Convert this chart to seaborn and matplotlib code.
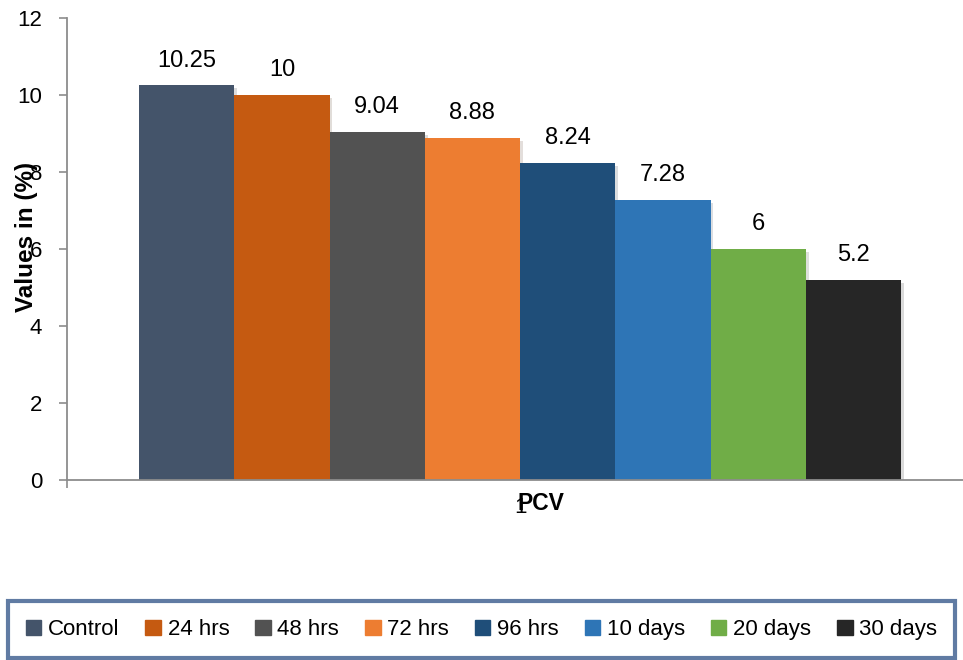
import seaborn as sns
import matplotlib.pyplot as plt
import matplotlib.patheffects as pe
import pandas as pd

# values
groups = ["Control", "24 hrs", "48 hrs", "72 hrs", "96 hrs",
          "10 days", "20 days", "30 days"]
pcv_values = [10.25, 10, 9.04, 8.88, 8.24, 7.28, 6, 5.2]
bar_labels = ["10.25", "10", "9.04", "8.88", "8.24", "7.28", "6", "5.2"]
category = "1"
colors = ["#44546A", "#C55A11", "#525252", "#ED7D31",
          "#1F4E79", "#2E75B6", "#70AD47", "#262626"]
y_ticks = [0, 2, 4, 6, 8, 10, 12]

sns.set_style("white")
plt.rcParams['font.family'] = ['Liberation Sans', 'DejaVu Sans']
plt.rcParams['text.color'] = 'black'
plt.rcParams['xtick.color'] = 'black'
plt.rcParams['ytick.color'] = 'black'
plt.rcParams['axes.labelcolor'] = 'black'

df = pd.DataFrame({"x": [category] * len(groups),
                   "group": groups,
                   "value": pcv_values})

fig = plt.figure(figsize=(9.63, 6.6), dpi=100)
# axes runs a little past the right edge, like the source chart
ax = fig.add_axes([0.0696, 0.2727, 0.9408, 0.70])

sns.barplot(data=df, x="x", y="value", hue="group", hue_order=groups,
            palette=colors, width=0.841, gap=0, saturation=1,
            edgecolor="none", legend=False, ax=ax)

# soft shadow behind the bars
for bar in ax.patches:
    bar.set_path_effects([pe.SimplePatchShadow(offset=(2, -2), alpha=0.15),
                          pe.Normal()])

# value labels above each bar
for container, lab in zip(ax.containers, bar_labels):
    ax.bar_label(container, labels=[lab], padding=10, fontsize=17)

ax.set_xlim(-0.5, 0.5)
ax.set_ylim(0, 12)
ax.set_yticks(y_ticks)
ax.tick_params(axis='y', labelsize=16, length=6, width=1.2,
               color="#8C8C8C", direction='out', pad=12, left=True)
ax.tick_params(axis='x', which='major', labelsize=16, length=0, pad=12)
ax.set_xticks([-0.5], minor=True)
ax.tick_params(axis='x', which='minor', length=6, width=1.2,
               color="#8C8C8C", direction='out', bottom=True)

for side in ["top", "right"]:
    ax.spines[side].set_visible(False)
for side in ["left", "bottom"]:
    ax.spines[side].set_color("#8C8C8C")
    ax.spines[side].set_linewidth(1.3)

ax.set_xlabel("PCV", fontsize=16.5, fontweight='bold')
ax.xaxis.label.set_va('center')
ax.xaxis.set_label_coords(0.523, -0.05)
ax.set_ylabel("Values in (%)", fontsize=17.5, fontweight='bold')
ax.yaxis.label.set_va('center')
ax.yaxis.set_label_coords(-0.0442, 0.526)

# shared legend in a framed box at the bottom
handles = [plt.Rectangle((0, 0), 1, 1, color=c) for c in colors]
leg = fig.legend(handles, groups, loc="lower left",
                 bbox_to_anchor=(0.0083, 0.003, 0.9834, 0.086),
                 mode="expand", ncol=len(groups),
                 frameon=True, fancybox=False, handlelength=0.7,
                 handleheight=0.7, handletextpad=0.3, columnspacing=1.0,
                 borderpad=0.8, borderaxespad=0, fontsize=16)
leg.get_frame().set_edgecolor("#385A8C")
leg.get_frame().set_linewidth(3)

plt.savefig("out.png", dpi=100)
plt.close()
